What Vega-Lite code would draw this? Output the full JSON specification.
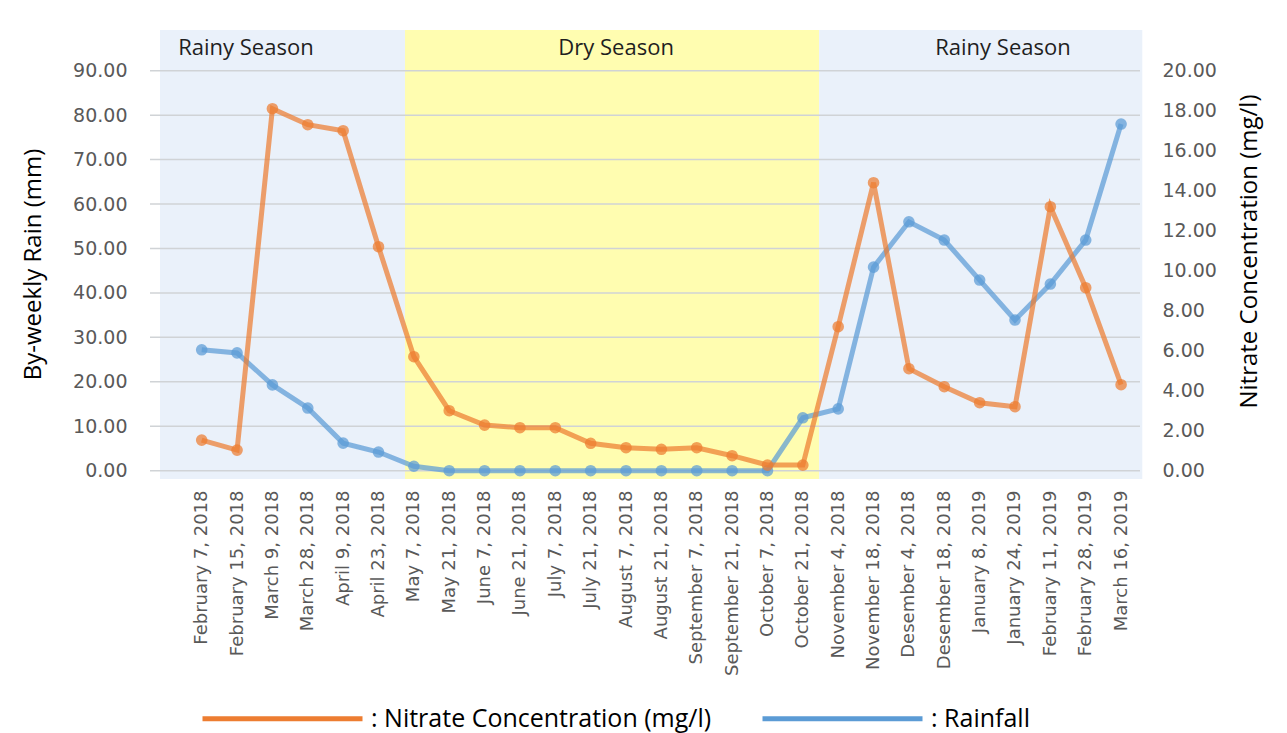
{
  "$schema": "https://vega.github.io/schema/vega-lite/v6.json",
  "width": 990,
  "height": 449,
  "autosize": {"type": "none"},
  "padding": {"left": 150, "top": 30, "right": 147, "bottom": 254},
  "background": "white",
  "config": {"view": {"stroke": null}},
  "datasets": {
    "series": [
      {"i": 0, "date": "February 7, 2018", "rain": 27.2, "nitrate": 1.53},
      {"i": 1, "date": "February 15, 2018", "rain": 26.5, "nitrate": 1.03},
      {"i": 2, "date": "March 9, 2018", "rain": 19.3, "nitrate": 18.1},
      {"i": 3, "date": "March 28, 2018", "rain": 14.1, "nitrate": 17.3},
      {"i": 4, "date": "April 9, 2018", "rain": 6.2, "nitrate": 17.0},
      {"i": 5, "date": "April 23, 2018", "rain": 4.2, "nitrate": 11.2},
      {"i": 6, "date": "May 7, 2018", "rain": 1.0, "nitrate": 5.7},
      {"i": 7, "date": "May 21, 2018", "rain": 0, "nitrate": 3.0},
      {"i": 8, "date": "June 7, 2018", "rain": 0, "nitrate": 2.28},
      {"i": 9, "date": "June 21, 2018", "rain": 0, "nitrate": 2.15},
      {"i": 10, "date": "July 7, 2018", "rain": 0, "nitrate": 2.15},
      {"i": 11, "date": "July 21, 2018", "rain": 0, "nitrate": 1.37},
      {"i": 12, "date": "August 7, 2018", "rain": 0, "nitrate": 1.15},
      {"i": 13, "date": "August 21, 2018", "rain": 0, "nitrate": 1.07},
      {"i": 14, "date": "September 7, 2018", "rain": 0, "nitrate": 1.15},
      {"i": 15, "date": "September 21, 2018", "rain": 0, "nitrate": 0.75},
      {"i": 16, "date": "October 7, 2018", "rain": 0, "nitrate": 0.28},
      {"i": 17, "date": "October 21, 2018", "rain": 11.9, "nitrate": 0.28},
      {"i": 18, "date": "November 4, 2018", "rain": 13.9, "nitrate": 7.2},
      {"i": 19, "date": "November 18, 2018", "rain": 45.8, "nitrate": 14.4},
      {"i": 20, "date": "Desember 4, 2018", "rain": 56.0, "nitrate": 5.1},
      {"i": 21, "date": "Desember 18, 2018", "rain": 51.9, "nitrate": 4.2},
      {"i": 22, "date": "January 8, 2019", "rain": 42.9, "nitrate": 3.4},
      {"i": 23, "date": "January 24, 2019", "rain": 33.9, "nitrate": 3.2},
      {"i": 24, "date": "February 11, 2019", "rain": 42.0, "nitrate": 13.2},
      {"i": 25, "date": "February 28, 2019", "rain": 51.9, "nitrate": 9.15},
      {"i": 26, "date": "March 16, 2019", "rain": 78.0, "nitrate": 4.3}
    ],
    "seasons": [
      {"season": "Rainy", "label": "Rainy Season", "x0": -1.18, "x1": 5.75, "xc": 1.25, "ty": 95.1},
      {"season": "Dry", "label": "Dry Season", "x0": 5.75, "x1": 17.46, "xc": 11.72, "ty": 95.1},
      {"season": "Rainy", "label": "Rainy Season", "x0": 17.46, "x1": 26.6, "xc": 22.66, "ty": 95.1}
    ],
    "grid": [
      {"g": 0}, {"g": 10}, {"g": 20}, {"g": 30}, {"g": 40},
      {"g": 50}, {"g": 60}, {"g": 70}, {"g": 80}, {"g": 90}
    ]
  },
  "encoding": {
    "x": {
      "field": "i",
      "type": "quantitative",
      "scale": {"domain": [-1.462, 26.535], "nice": false, "zero": false},
      "axis": {
        "title": null,
        "values": [0,1,2,3,4,5,6,7,8,9,10,11,12,13,14,15,16,17,18,19,20,21,22,23,24,25,26],
        "labelExpr": "['February 7, 2018','February 15, 2018','March 9, 2018','March 28, 2018','April 9, 2018','April 23, 2018','May 7, 2018','May 21, 2018','June 7, 2018','June 21, 2018','July 7, 2018','July 21, 2018','August 7, 2018','August 21, 2018','September 7, 2018','September 21, 2018','October 7, 2018','October 21, 2018','November 4, 2018','November 18, 2018','Desember 4, 2018','Desember 18, 2018','January 8, 2019','January 24, 2019','February 11, 2019','February 28, 2019','March 16, 2019'][datum.value]",
        "labelAngle": -90,
        "labelFont": "DejaVu Sans",
        "labelFontSize": 18,
        "labelColor": "#595959",
        "labelPadding": 11,
        "labelLimit": 0,
        "labelOverlap": false,
        "labelFlush": false,
        "ticks": false,
        "domain": false,
        "grid": false
      }
    },
    "color": {
      "type": "nominal",
      "scale": {"domain": ["Nitrate Concentration (mg/l)", "Rainfall"], "range": ["#ED7D31", "#5B9BD5"]},
      "legend": {
        "title": null,
        "orient": "none",
        "legendX": 50,
        "legendY": 606,
        "direction": "horizontal",
        "symbolType": "stroke",
        "symbolSize": 25600,
        "symbolStrokeWidth": 5,
        "symbolOpacity": 1,
        "labelExpr": "': ' + datum.label",
        "labelFont": "Open Sans",
        "labelFontSize": 25,
        "labelColor": "#000000",
        "labelOffset": 6,
        "labelLimit": 0,
        "columnPadding": 40
      }
    }
  },
  "layer": [
    {
      "data": {"name": "seasons"},
      "mark": {"type": "rect"},
      "encoding": {
        "x": {"field": "x0", "type": "quantitative"},
        "x2": {"field": "x1"},
        "color": null,
        "fill": {
          "field": "season",
          "type": "nominal",
          "scale": {"domain": ["Rainy", "Dry"], "range": ["#EAF1FA", "#FFFDB0"]},
          "legend": null
        }
      }
    },
    {
      "data": {"name": "grid"},
      "mark": {"type": "rule", "stroke": "#D0D3D6", "strokeWidth": 1.5},
      "encoding": {
        "x": null,
        "color": null,
        "y": {
          "field": "g",
          "type": "quantitative",
          "scale": {"domain": [-1.87, 99.16], "nice": false, "zero": false},
          "axis": null
        }
      }
    },
    {
      "data": {"name": "seasons"},
      "mark": {"type": "text", "font": "Open Sans", "fontSize": 22, "color": "#1f1f1f", "align": "center", "baseline": "middle"},
      "encoding": {
        "x": {"field": "xc", "type": "quantitative"},
        "color": null,
        "y": {
          "field": "ty",
          "type": "quantitative",
          "scale": {"domain": [-1.87, 99.16], "nice": false, "zero": false},
          "axis": null
        },
        "text": {"field": "label"}
      }
    },
    {
      "data": {"name": "series"},
      "mark": {
        "type": "line",
        "strokeWidth": 5,
        "opacity": 0.72,
        "point": {"filled": true, "size": 135, "opacity": 0.72}
      },
      "encoding": {
        "y": {
          "field": "rain",
          "type": "quantitative",
          "scale": {"domain": [-1.87, 99.16], "nice": false, "zero": false},
          "axis": {
            "orient": "left",
            "title": "By-weekly Rain (mm)",
            "values": [0,10,20,30,40,50,60,70,80,90],
            "format": ".2f",
            "grid": false,
            "ticks": false,
            "domain": false,
            "labelFont": "DejaVu Sans",
            "labelFontSize": 19,
            "labelColor": "#595959",
            "labelPadding": 23,
            "titleFont": "Open Sans",
            "titleFontSize": 24,
            "titleFontWeight": "normal",
            "titleColor": "#000000",
            "titleX": -117,
            "titleY": 234,
            "titleAngle": 270,
            "titleAlign": "center",
            "titleBaseline": "middle"
          }
        },
        "color": {"datum": "Rainfall"}
      }
    },
    {
      "data": {"name": "series"},
      "mark": {
        "type": "line",
        "strokeWidth": 5,
        "opacity": 0.72,
        "point": {"filled": true, "size": 135, "opacity": 0.72}
      },
      "encoding": {
        "y": {
          "field": "nitrate",
          "type": "quantitative",
          "scale": {"domain": [-0.415, 22.035], "nice": false, "zero": false},
          "axis": {
            "orient": "right",
            "title": "Nitrate Concentration (mg/l)",
            "values": [0,2,4,6,8,10,12,14,16,18,20],
            "format": ".2f",
            "grid": false,
            "ticks": false,
            "domain": false,
            "labelFont": "DejaVu Sans",
            "labelFontSize": 19,
            "labelColor": "#595959",
            "labelPadding": 22,
            "titleFont": "Open Sans",
            "titleFontSize": 24,
            "titleFontWeight": "normal",
            "titleColor": "#000000",
            "titleX": 109,
            "titleY": 221,
            "titleAngle": 270,
            "titleAlign": "center",
            "titleBaseline": "middle"
          }
        },
        "color": {"datum": "Nitrate Concentration (mg/l)"}
      }
    }
  ],
  "resolve": {"scale": {"y": "independent"}}
}
